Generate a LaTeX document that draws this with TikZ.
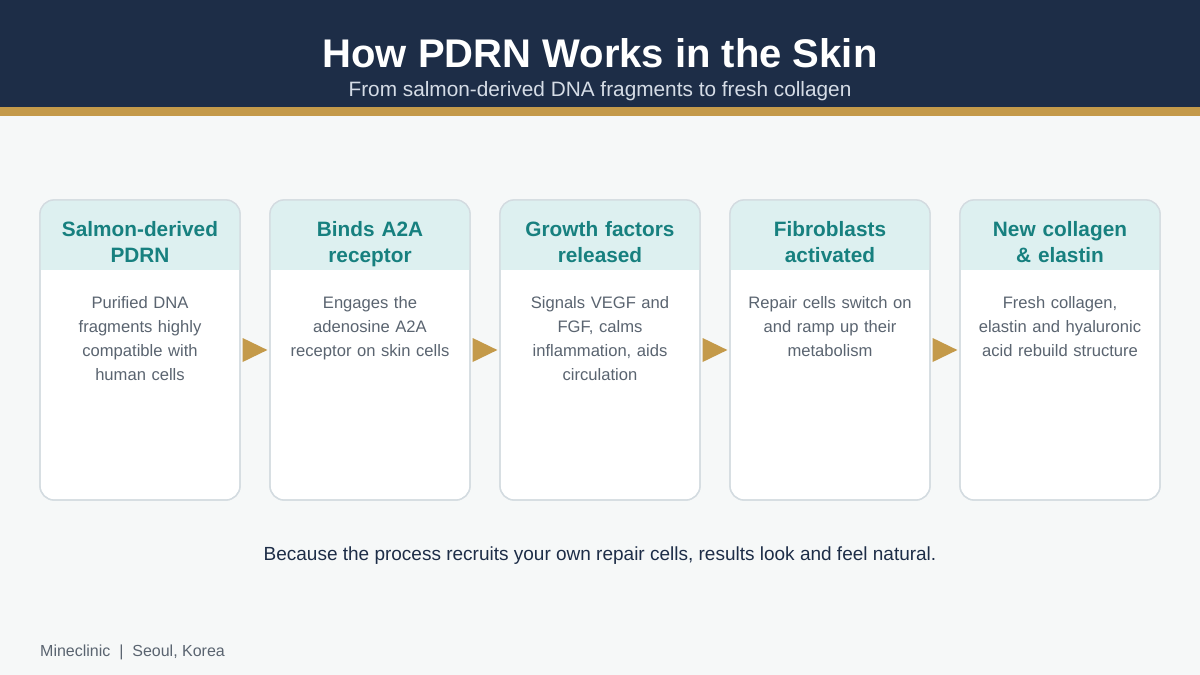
\documentclass[tikz,border=0pt]{standalone}
\usepackage{fontspec}
\setmainfont{Liberation Sans}
\usetikzlibrary{calc}
\definecolor{navy}{HTML}{1D2D47}
\definecolor{gold}{HTML}{C49A4A}
\definecolor{pagebg}{HTML}{F6F8F8}
\definecolor{cardhead}{HTML}{DDF0F0}
\definecolor{cardborder}{HTML}{D3DBE0}
\definecolor{teal}{HTML}{17807F}
\definecolor{bodygrey}{HTML}{5A6470}
\definecolor{subgrey}{HTML}{D5DCE6}
\tikzset{
  cardbox/.style={draw=cardborder, line width=1.3pt, fill=white, rounded corners=14pt, minimum width=200pt, minimum height=300pt, inner sep=0pt},
  cardtitle/.style={font=\bfseries\fontsize{20.8}{26}\selectfont, text=teal, align=center, text width=196pt, inner sep=0pt, anchor=north},
  cardbody/.style={font=\fontsize{16.6}{24}\selectfont, text=bodygrey, align=center, text width=196pt, inner sep=0pt, anchor=north},
  flowtip/.style={fill=gold, draw=none}
}
\begin{document}
\begin{tikzpicture}[x=1pt,y=-1pt]
\useasboundingbox (0,0) rectangle (1200,675);
\fill[pagebg] (0,0) rectangle (1200,675);
\fill[navy] (0,0) rectangle (1200,107);
\fill[gold] (0,107) rectangle (1200,116);
\node[font=\bfseries\fontsize{40}{44}\selectfont, text=white] (title) at (600,53) {How PDRN Works in the Skin};
\node[font=\fontsize{20.8}{24}\selectfont, text=subgrey] (subtitle) at (600,91) {From salmon-derived DNA fragments to fresh collagen};

\foreach \i/\cx/\ttl/\bdy in {
  1/140/{Salmon-derived\\PDRN}/{Purified DNA\\fragments highly\\compatible with\\human cells},
  2/370/{Binds A2A\\receptor}/{Engages the\\adenosine A2A\\receptor on skin cells},
  3/600/{Growth factors\\released}/{Signals VEGF and\\FGF, calms\\inflammation, aids\\circulation},
  4/830/{Fibroblasts\\activated}/{Repair cells switch on\\and ramp up their\\metabolism},
  5/1060/{New collagen\\\& elastin}/{Fresh collagen,\\elastin and hyaluronic\\acid rebuild structure}}{
  \node[cardbox] (c\i) at (\cx,350) {};
  \begin{scope}
    \clip[rounded corners=14pt] (\cx-100,200) rectangle (\cx+100,500);
    \fill[cardhead] (\cx-100,200) rectangle (\cx+100,270);
  \end{scope}
  \draw[cardborder, line width=1.3pt, rounded corners=14pt] (\cx-100,200) rectangle (\cx+100,500);
  \node[cardtitle] (t\i) at (\cx,218.5) {\strut\ttl};
  \node[cardbody] (b\i) at (\cx,291) {\strut\bdy};
}
\foreach \a/\b in {1/2,2/3,3/4,4/5}{
  \fill[flowtip] ($(c\a.east)+(2,-12)$) -- ($(c\b.west)+(-2,0)$) -- ($(c\a.east)+(2,12)$) -- cycle;
}
\node[font=\fontsize{19}{22}\selectfont, text=navy] (note) at (600,556) {Because the process recruits your own repair cells, results look and feel natural.};
\node[font=\fontsize{16}{18}\selectfont, text=bodygrey, anchor=west, inner sep=0pt] (footer) at (40,652) {Mineclinic~~|~~Seoul, Korea};
\end{tikzpicture}
\end{document}
